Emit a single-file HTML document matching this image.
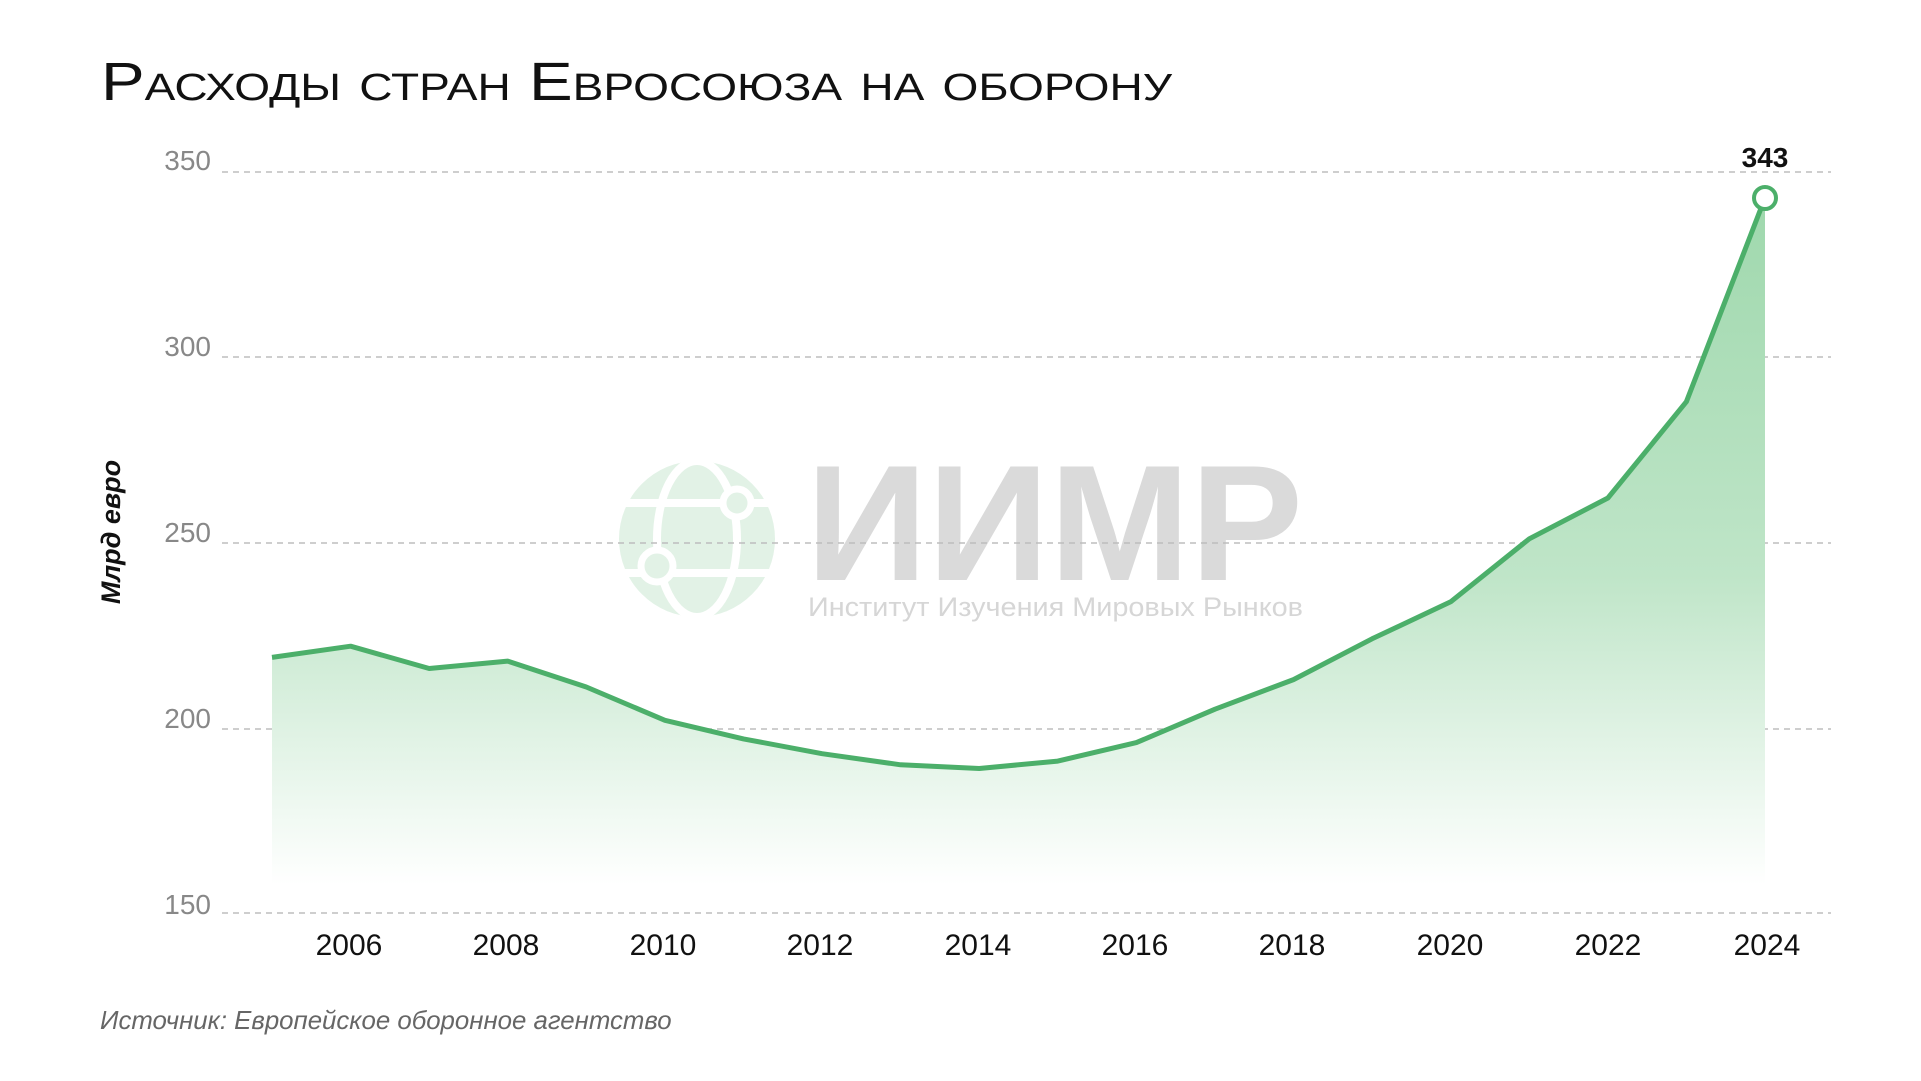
<!DOCTYPE html>
<html><head><meta charset="utf-8"><style>
html,body{margin:0;padding:0;background:#fff;}
svg{display:block;}
</style></head><body>
<svg width="1921" height="1081" viewBox="0 0 1921 1081" xmlns="http://www.w3.org/2000/svg" font-family="'Liberation Sans', 'Noto Sans CJK SC', sans-serif">
<defs>
<linearGradient id="g" x1="0" y1="198" x2="0" y2="885" gradientUnits="userSpaceOnUse">
<stop offset="0" stop-color="#9fd8ad"/>
<stop offset="0.55" stop-color="#bfe5c8"/>
<stop offset="1" stop-color="#ffffff"/>
</linearGradient>
</defs>
<rect width="1921" height="1081" fill="#fff"/>
<text x="101" y="100" font-size="54" fill="#111" style="font-variant:small-caps" textLength="1071" lengthAdjust="spacingAndGlyphs">Расходы стран Евросоюза на оборону</text>

<!-- watermark -->
<g transform="translate(0,-7)">
<circle cx="697" cy="546" r="78" fill="#e2f2e6"/>
<g stroke="#fff" stroke-width="8" fill="none">
<line x1="619" y1="510" x2="775" y2="510"/>
<line x1="619" y1="580" x2="775" y2="580"/>
<ellipse cx="697" cy="546" rx="40" ry="78"/>
</g>
<circle cx="737" cy="510" r="14" fill="#e2f2e6" stroke="#fff" stroke-width="7"/>
<circle cx="657" cy="573" r="16" fill="#e2f2e6" stroke="#fff" stroke-width="7"/>
</g>
<text x="806" y="580" font-size="165" font-weight="bold" fill="#dadada" textLength="497" lengthAdjust="spacingAndGlyphs">ИИМР</text>
<text x="808" y="616" font-size="27" fill="#d6d6d6" textLength="495" lengthAdjust="spacingAndGlyphs">Институт Изучения Мировых Рынков</text>

<!-- grid -->
<g stroke="#bdbdbd" stroke-width="1.5" stroke-dasharray="6,5">
<line x1="222" y1="172" x2="1831" y2="172"/>
<line x1="222" y1="357" x2="1831" y2="357"/>
<line x1="222" y1="543" x2="1831" y2="543"/>
<line x1="222" y1="729" x2="1831" y2="729"/>
<line x1="222" y1="913" x2="1831" y2="913"/>
</g>
<g font-size="28" fill="#888" text-anchor="end">
<text x="211" y="170">350</text>
<text x="211" y="356">300</text>
<text x="211" y="542">250</text>
<text x="211" y="728">200</text>
<text x="211" y="914">150</text>
</g>

<path d="M272,657.4 L350.6,646.2 L429.2,668.5 L507.7,661.1 L586.3,687 L664.9,720.3 L743.5,738.9 L822.1,753.7 L900.6,764.8 L979.2,768.5 L1057.8,761.1 L1136.4,742.6 L1215,709.2 L1293.5,679.6 L1372.1,638.8 L1450.7,601.8 L1529.3,538.8 L1607.9,498 L1686.4,401.7 L1765,197.9 L1765,885 L272,885 Z" fill="url(#g)"/>
<polyline points="272,657.4 350.6,646.2 429.2,668.5 507.7,661.1 586.3,687 664.9,720.3 743.5,738.9 822.1,753.7 900.6,764.8 979.2,768.5 1057.8,761.1 1136.4,742.6 1215,709.2 1293.5,679.6 1372.1,638.8 1450.7,601.8 1529.3,538.8 1607.9,498 1686.4,401.7 1765,197.9" fill="none" stroke="#4caf6a" stroke-width="5" stroke-linejoin="round"/>
<circle cx="1765" cy="198" r="11" fill="#fff" stroke="#4caf6a" stroke-width="4"/>
<text x="1765" y="167" font-size="28" font-weight="bold" fill="#111" text-anchor="middle">343</text>

<g font-size="30" fill="#111" text-anchor="middle">
<text x="349" y="955">2006</text>
<text x="506" y="955">2008</text>
<text x="663" y="955">2010</text>
<text x="820" y="955">2012</text>
<text x="978" y="955">2014</text>
<text x="1135" y="955">2016</text>
<text x="1292" y="955">2018</text>
<text x="1450" y="955">2020</text>
<text x="1608" y="955">2022</text>
<text x="1767" y="955">2024</text>
</g>
<text transform="translate(120,532) rotate(-90)" font-size="27" font-weight="bold" font-style="italic" fill="#111" text-anchor="middle">Млрд евро</text>
<text x="100" y="1029" font-size="25.8" font-style="italic" fill="#666">Источник: Европейское оборонное агентство</text>
</svg>
</body></html>
